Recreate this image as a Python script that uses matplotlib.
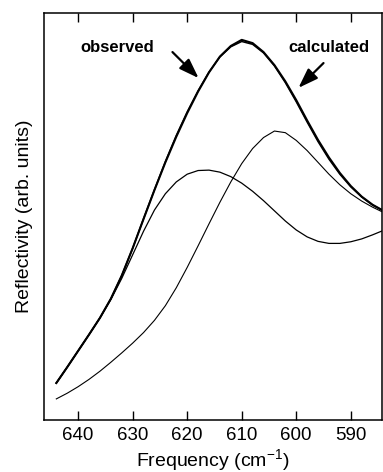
import numpy as np
import matplotlib
matplotlib.use("Agg")
import matplotlib.pyplot as plt

plt.rcParams['font.family'] = ['Liberation Sans', 'DejaVu Sans']
plt.rcParams['mathtext.fontset'] = 'custom'
plt.rcParams['mathtext.rm'] = 'Liberation Sans'
plt.rcParams['mathtext.default'] = 'regular'

# Frequency grid (cm^-1), every 2 cm^-1
freq = [644, 642, 640, 638, 636, 634, 632, 630, 628, 626, 624, 622, 620, 618, 616,
        614, 612, 610, 608, 606, 604, 602, 600, 598, 596, 594, 592, 590, 588, 586, 584]

# Reflectivity (arb. units) of the curves
observed = [9.1, 13.0, 17.0, 21.0, 25.1, 29.8, 35.5, 42.2, 49.4, 56.5, 63.3, 69.6, 75.4, 80.7, 85.4,
            89.3, 91.9, 93.4, 92.6, 90.4, 87.2, 83.2, 78.6, 73.6, 68.8, 64.5, 60.7, 57.5, 54.9, 52.9, 51.4]
calculated = [9.1, 13.0, 17.0, 21.0, 25.1, 29.8, 35.5, 42.2, 49.5, 56.6, 63.5, 69.9, 75.7, 80.9, 85.5,
              89.2, 91.7, 93.0, 92.3, 90.2, 87.0, 82.9, 78.2, 73.2, 68.4, 64.1, 60.4, 57.3, 54.8, 52.8, 51.4]
lower_mode = [9.1, 13.0, 17.0, 21.0, 25.1, 29.6, 34.8, 40.6, 46.4, 51.6, 55.6, 58.5, 60.4, 61.3, 61.4,
              60.9, 59.8, 58.2, 56.2, 53.9, 51.4, 48.9, 46.7, 45.0, 43.9, 43.4, 43.4, 43.8, 44.5, 45.5, 46.6]
upper_mode = [5.2, 6.6, 8.2, 10.0, 12.0, 14.2, 16.5, 18.9, 21.5, 24.5, 28.1, 32.5, 37.5, 42.8, 48.2,
              53.5, 58.5, 63.0, 66.7, 69.4, 71.0, 70.6, 68.7, 66.2, 63.3, 60.4, 57.8, 55.6, 53.8, 52.3, 51.0]

xticks = [640, 630, 620, 610, 600, 590]

fig = plt.figure(figsize=(3.83, 4.72), dpi=100)
ax = fig.add_axes([0.115, 0.11, 0.882, 0.8625])

ax.plot(freq, observed, color='black', lw=1.5, solid_joinstyle='round')
ax.plot(freq, calculated, color='black', lw=1.1, solid_joinstyle='round')
ax.plot(freq, lower_mode, color='black', lw=0.9, solid_joinstyle='round')
ax.plot(freq, upper_mode, color='black', lw=0.8, solid_joinstyle='round')

ax.set_xlim(646.25, 584.3)
ax.set_ylim(0, 100)
ax.set_xticks(xticks)
ax.set_yticks([])
ax.tick_params(axis='x', direction='in', length=6.5, width=1.0, top=True,
               labelsize=13.5, pad=5)
for s in ax.spines.values():
    s.set_linewidth(1.1)

ax.set_xlabel('Frequency (cm$^{-1}$)', fontsize=14, labelpad=2)
ax.set_ylabel('Reflectivity (arb. units)', fontsize=14, labelpad=8)

arrow = dict(arrowstyle='-|>,head_length=0.8,head_width=0.28', color='black',
             lw=1.6, mutation_scale=15, shrinkA=0, shrinkB=0)
ax.text(632.8, 91.4, 'observed', fontsize=12, fontweight='bold', ha='center', va='center')
ax.annotate('', xy=(617.9, 84.0), xytext=(622.7, 90.4), arrowprops=arrow)
ax.text(594.0, 91.4, 'calculated', fontsize=12, fontweight='bold', ha='center', va='center')
ax.annotate('', xy=(599.6, 81.6), xytext=(595.0, 87.7), arrowprops=arrow)

fig.savefig('out.png', dpi=100)
